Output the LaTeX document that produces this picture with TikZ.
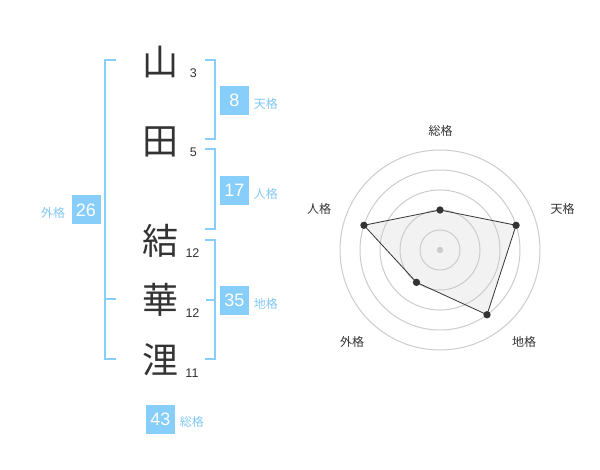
\documentclass[tikz,border=0pt]{standalone}
\usepackage{fontspec}
\setmainfont{Liberation Sans}
\newfontfamily\cjk{Noto Sans CJK JP}
\definecolor{kblue}{RGB}{135,206,250}
\definecolor{klabel}{RGB}{130,200,245}
\definecolor{ktext}{RGB}{51,51,51}
\definecolor{kgrid}{RGB}{204,204,204}
\definecolor{kfill}{RGB}{242,242,242}
\begin{document}
\begin{tikzpicture}[x=0.75pt,y=-0.75pt,
  kanji/.style={font=\cjk\fontsize{27}{27}\selectfont,text=ktext,inner sep=0pt},
  strokes/.style={font=\fontsize{9.4}{9.4}\selectfont,text=ktext,inner sep=0pt},
  numbox/.style={fill=kblue,text=white,minimum size=21.75pt,inner sep=0pt,font=\fontsize{13.5}{13.5}\selectfont},
  kaku/.style={font=\cjk\fontsize{9}{9}\selectfont,text=klabel,inner sep=0pt},
  radlabel/.style={font=\cjk\fontsize{9}{9}\selectfont,text=ktext,inner sep=0pt},
  bracket/.style={draw=kblue,line width=1.5pt},
  gridc/.style={draw=kgrid,line width=0.75pt},
  dotv/.style={circle,fill=ktext,inner sep=0pt,minimum size=5.5pt}]
\useasboundingbox (0,0) rectangle (600,470);
% characters
\node[kanji] (c1) at (160.5,62) {山};
\node[kanji] (c2) at (160.5,141.5) {田};
\node[kanji] (c3) at (160,241) {結};
\node[kanji] (c4) at (160,300) {華};
\node[kanji] (c5) at (160,360) {浬};
% stroke counts
\node[strokes] (s1) at (193.3,72.7) {3};
\node[strokes] (s2) at (193.3,152.7) {5};
\node[strokes] (s3) at (192.5,253) {12};
\node[strokes] (s4) at (192.5,313) {12};
\node[strokes] (s5) at (192,373) {11};
% brackets
\draw[bracket] (116,60) -- (105,60) -- (105,359.3) -- (116,359.3);
\draw[bracket] (105,299.5) -- (116,299.5);
\draw[bracket] (205,60) -- (215,60) -- (215,139.3) -- (205,139.3);
\draw[bracket] (205,149.3) -- (215,149.3) -- (215,229.3) -- (205,229.3);
\draw[bracket] (205,240) -- (215,240) -- (215,359.3) -- (205,359.3);
\draw[bracket] (215,300) -- (206,300);
% number boxes
\node[numbox] (ten) at (234.5,100.5) {8};
\node[kaku,anchor=west] (tenl) at (253.5,103.5) {天格};
\node[numbox] (jin) at (234.5,190.5) {17};
\node[kaku,anchor=west] (jinl) at (253.5,193.5) {人格};
\node[numbox] (gai) at (86,210) {26};
\node[kaku,anchor=east] (gail) at (65.5,213) {外格};
\node[numbox] (chi) at (234.5,300.5) {35};
\node[kaku,anchor=west] (chil) at (253.5,303.5) {地格};
\node[numbox] (sou) at (160.5,419) {43};
\node[kaku,anchor=west] (soul) at (179.5,422) {総格};
% radar
\begin{scope}[shift={(440,250)}]
\coordinate (pS) at (-90:40);
\coordinate (pT) at (-18:80);
\coordinate (pC) at (54:80);
\coordinate (pG) at (126:40);
\coordinate (pJ) at (198:80);
\fill[kfill] (pS) -- (pT) -- (pC) -- (pG) -- (pJ) -- cycle;
\foreach \r in {15,30,45,60,75} \draw[gridc] (0,0) circle[radius=\r pt];
\fill[kgrid] (0,0) circle[radius=2.4pt];
\draw[ktext,line width=0.6pt] (pS) -- (pT) -- (pC) -- (pG) -- (pJ) -- cycle;
\node[dotv] (dS) at (pS) {};
\node[dotv] (dT) at (pT) {};
\node[dotv] (dC) at (pC) {};
\node[dotv] (dG) at (pG) {};
\node[dotv] (dJ) at (pJ) {};
\end{scope}
\node[radlabel] (lS) at (440.5,130.5) {総格};
\node[radlabel] (lT) at (562.5,208.5) {天格};
\node[radlabel] (lJ) at (319,208.5) {人格};
\node[radlabel] (lG) at (352,342) {外格};
\node[radlabel] (lC) at (524,342) {地格};
\end{tikzpicture}
\end{document}
